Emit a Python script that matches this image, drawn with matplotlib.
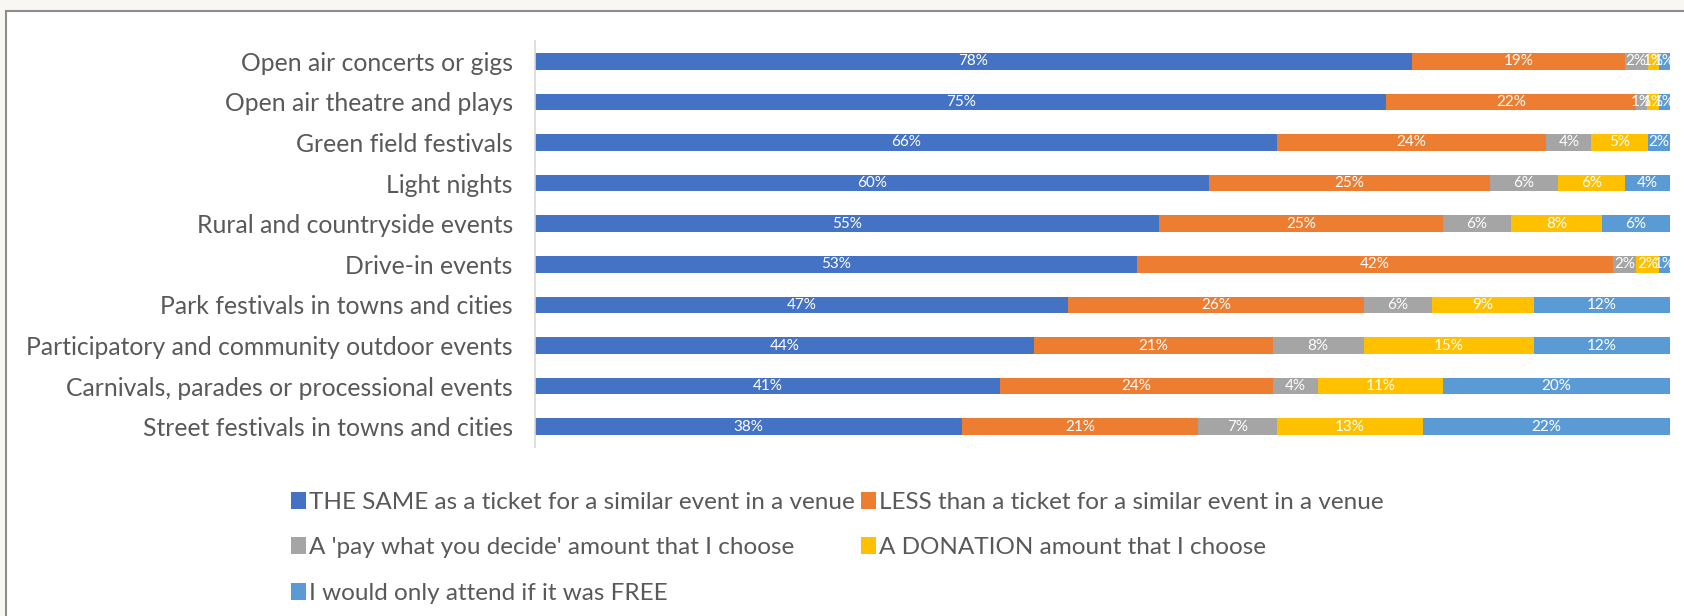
import numpy as np
import matplotlib.pyplot as plt
from matplotlib.patches import Rectangle

plt.rcParams['font.family'] = ['Lato', 'DejaVu Sans']

events = [
    "Open air concerts or gigs",
    "Open air theatre and plays",
    "Green field festivals",
    "Light nights",
    "Rural and countryside events",
    "Drive-in events",
    "Park festivals in towns and cities",
    "Participatory and community outdoor events",
    "Carnivals, parades or processional events",
    "Street festivals in towns and cities",
]

answers = [
    "THE SAME as a ticket for a similar event in a venue",
    "LESS than a ticket for a similar event in a venue",
    "A 'pay what you decide' amount that I choose",
    "A DONATION amount that I choose",
    "I would only attend if it was FREE",
]

same = [78, 75, 66, 60, 55, 53, 47, 44, 41, 38]
less = [19, 22, 24, 25, 25, 42, 26, 21, 24, 21]
pay_what = [2, 1, 4, 6, 6, 2, 6, 8, 4, 7]
donation = [1, 1, 5, 6, 8, 2, 9, 15, 11, 13]
free = [1, 1, 2, 4, 6, 1, 12, 12, 20, 22]

colors = ["#4472C4", "#ED7D31", "#A5A5A5", "#FFC000", "#5B9BD5"]
text_grey = "#595959"

series = np.array([same, less, pay_what, donation, free], dtype=float)
# 100% stacked: each row is scaled to its own total
shares = series / series.sum(axis=0) * 100

fig = plt.figure(figsize=(16.84, 6.16), dpi=100)
fig.patch.set_facecolor("#f8f7f3")
# white chart area with a grey frame
fig.patches.append(Rectangle((6 / 1684, -0.05), 1.1, 1.05 - 11 / 616,
                             transform=fig.transFigure, facecolor="white",
                             edgecolor="#8c8c8c", linewidth=1.5, zorder=-10))

ax = fig.add_axes([535 / 1684, 1 - 447 / 616, (1670 - 535) / 1684, 406 / 616])
ax.set_facecolor("none")

y = np.arange(len(events))
left = np.zeros(len(events))
handles = []
for i, name in enumerate(answers):
    bars = ax.barh(y, shares[i], left=left, height=0.41, color=colors[i],
                   label=name)
    ax.bar_label(bars, labels=[f"{int(v)}%" for v in series[i]],
                 label_type="center", color="white", fontsize=11)
    handles.append(bars)
    left += shares[i]

ax.set_xlim(0, 100)
ax.set_ylim(len(events) - 0.5, -0.5)
ax.set_yticks(y)
ax.set_yticklabels(events, fontsize=17.8, color=text_grey)
ax.tick_params(axis="y", length=0, pad=16)
ax.set_xticks([])
for side in ["top", "right", "bottom"]:
    ax.spines[side].set_visible(False)
ax.spines["left"].set_color("#d9d9d9")
ax.spines["left"].set_linewidth(1.2)

# legend reads row by row: two entries per row
order = [0, 2, 4, 1, 3]
fig.legend([handles[k] for k in order], [answers[k] for k in order],
           ncol=2, loc="upper left", bbox_to_anchor=(279 / 1684, 1 - 480 / 616),
           frameon=False, prop={"size": 17.5},
           labelcolor=text_grey,
           handlelength=0.6, handleheight=0.7, handletextpad=0.15,
           columnspacing=0.25, labelspacing=1.0, borderpad=0)

fig.savefig("out.png", dpi=100, facecolor=fig.get_facecolor())
